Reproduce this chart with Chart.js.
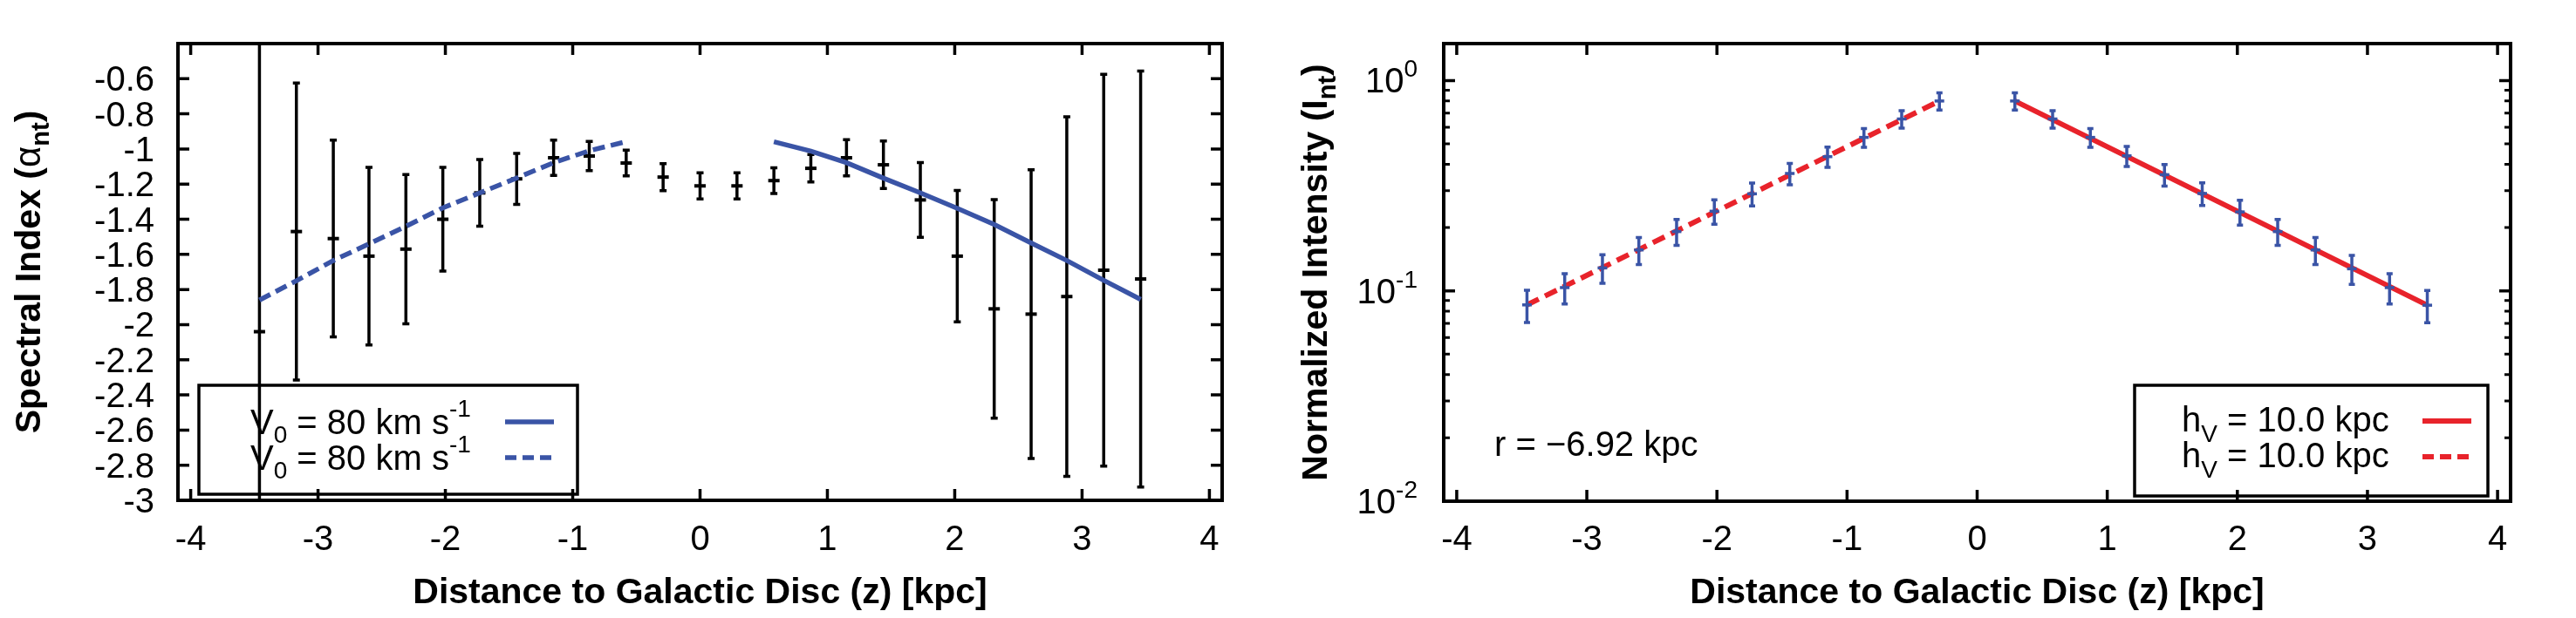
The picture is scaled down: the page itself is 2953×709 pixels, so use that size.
<!DOCTYPE html>
<html>
<head>
<meta charset="utf-8">
<script src="https://cdn.jsdelivr.net/npm/chart.js@4.4.1/dist/chart.umd.min.js"></script>
<style>
	html, body { margin: 0; padding: 0; background: #fff; }
	body { width: 2953px; height: 709px; position: relative; overflow: hidden; }
	canvas { position: absolute; top: 0; }
	#alphaChart { left: 0; }
	#intensityChart { left: 1476px; }
</style>
</head>
<body>
<canvas id="alphaChart" width="1476" height="709"></canvas>
<canvas id="intensityChart" width="1477" height="709"></canvas>
<script>
// values
const zAlpha = [-3.46, -3.17, -2.88, -2.6, -2.31, -2.02, -1.73, -1.44, -1.15, -0.87, -0.58, -0.29, 0, 0.29, 0.58, 0.87, 1.15, 1.44, 1.73, 2.02, 2.31, 2.6, 2.88, 3.17, 3.46];
const alphaValues = [-2.04, -1.47, -1.51, -1.61, -1.57, -1.40, -1.25, -1.17, -1.05, -1.04, -1.08, -1.16, -1.21, -1.21, -1.18, -1.11, -1.05, -1.09, -1.29, -1.61, -1.91, -1.94, -1.84, -1.69, -1.74];
const alphaErrors = [1.9, 0.845, 0.56, 0.505, 0.425, 0.295, 0.19, 0.145, 0.10, 0.083, 0.073, 0.077, 0.074, 0.074, 0.073, 0.078, 0.103, 0.135, 0.213, 0.374, 0.622, 0.822, 1.023, 1.115, 1.184];

const fitNorthZ = [0.58, 0.87, 1.15, 1.44, 1.73, 2.02, 2.31, 2.6, 2.88, 3.17, 3.46];
const fitNorthAlpha = [-0.959, -1.012, -1.078, -1.166, -1.25, -1.338, -1.43, -1.535, -1.635, -1.748, -1.856];
const fitSouthZ = [-3.46, -3.17, -2.88, -2.6, -2.31, -2.02, -1.73, -1.44, -1.15, -0.87, -0.58];
const fitSouthAlpha = [-1.86, -1.75, -1.635, -1.54, -1.44, -1.335, -1.25, -1.165, -1.078, -1.01, -0.958];

const zIntensity = [-3.46, -3.17, -2.88, -2.6, -2.31, -2.02, -1.73, -1.44, -1.15, -0.87, -0.58, -0.29, 0.29, 0.58, 0.87, 1.15, 1.44, 1.73, 2.02, 2.31, 2.6, 2.88, 3.17, 3.46];
const intensityValues = [0.0858, 0.1037, 0.1286, 0.1566, 0.1915, 0.2393, 0.2896, 0.3618, 0.435, 0.537, 0.657, 0.80, 0.80, 0.657, 0.537, 0.4388, 0.357, 0.2906, 0.2375, 0.1915, 0.1566, 0.1274, 0.1037, 0.0855];
const intensityErrors = [0.015, 0.017, 0.02, 0.023, 0.027, 0.032, 0.036, 0.042, 0.048, 0.055, 0.063, 0.075, 0.075, 0.063, 0.055, 0.048, 0.042, 0.036, 0.032, 0.027, 0.023, 0.02, 0.017, 0.015];

const expNorthZ = [0.29, 3.46];
const expNorthI = [0.80, 0.0855];
const expSouthZ = [-3.46, -0.29];
const expSouthI = [0.0858, 0.80];

const zTicks = [-4, -3, -2, -1, 0, 1, 2, 3, 4];
const alphaTicks = [-3, -2.8, -2.6, -2.4, -2.2, -2, -1.8, -1.6, -1.4, -1.2, -1, -0.8, -0.6];
const intensityDecades = [-2, -1, 0];
const minorSteps = [2, 3, 4, 5, 6, 7, 8, 9];

const FONT = `"Liberation Sans", Arial, Helvetica, sans-serif`;
const BLUE = `#3a54a6`;
const RED = `#e8232b`;
const toPoints = (xs, ys) => xs.map((x, i) => ({x, y: ys[i]}));

// draws a run of text pieces (for sub/superscripts), left aligned
function drawRich(ctx, x, y, parts) {
	parts.forEach(p => {
		ctx.font = p.font;
		ctx.fillText(p.text, x, y + (p.dy || 0));
		x += ctx.measureText(p.text).width;
	});
}

function richWidth(ctx, parts) {
	return parts.reduce((w, p) => { ctx.font = p.font; return w + ctx.measureText(p.text).width; }, 0);
}

function drawErrorBars(chart, index, errors, color, cap) {
	const {ctx, chartArea: a, scales: {x, y}} = chart;
	const points = chart.data.datasets[index].data;
	ctx.save();
	ctx.beginPath();
	ctx.rect(a.left, a.top, a.width, a.height);
	ctx.clip();
	ctx.strokeStyle = color;
	ctx.lineWidth = 3.5;
	ctx.beginPath();
	points.forEach((p, i) => {
		const px = x.getPixelForValue(p.x);
		const top = y.getPixelForValue(p.y + errors[i]);
		const bottom = y.getPixelForValue(p.y - errors[i]);
		ctx.moveTo(px, top); ctx.lineTo(px, bottom);
		ctx.moveTo(px - cap, top); ctx.lineTo(px + cap, top);
		ctx.moveTo(px - cap, bottom); ctx.lineTo(px + cap, bottom);
	});
	ctx.stroke();
	ctx.restore();
}

function drawFrame(chart, majorY, minorY) {
	const {ctx, chartArea: a, scales: {x, y}} = chart;
	ctx.save();
	ctx.strokeStyle = `#000`;
	ctx.lineWidth = 3.5;
	ctx.beginPath();
	zTicks.forEach(v => {
		const px = x.getPixelForValue(v);
		ctx.moveTo(px, a.bottom); ctx.lineTo(px, a.bottom - 13);
		ctx.moveTo(px, a.top); ctx.lineTo(px, a.top + 13);
	});
	majorY.forEach(v => {
		const py = y.getPixelForValue(v);
		ctx.moveTo(a.left, py); ctx.lineTo(a.left + 13, py);
		ctx.moveTo(a.right, py); ctx.lineTo(a.right - 13, py);
	});
	ctx.stroke();
	ctx.lineWidth = 3;
	ctx.beginPath();
	minorY.forEach(v => {
		const py = y.getPixelForValue(v);
		ctx.moveTo(a.left, py); ctx.lineTo(a.left + 7, py);
		ctx.moveTo(a.right, py); ctx.lineTo(a.right - 7, py);
	});
	ctx.stroke();
	ctx.lineWidth = 4;
	ctx.strokeRect(a.left, a.top, a.width, a.height);
	ctx.restore();
}

function drawAxisText(chart, yTitleX, yTitleParts) {
	const {ctx, chartArea: a, scales: {x}} = chart;
	ctx.save();
	ctx.fillStyle = `#000`;
	ctx.textBaseline = `alphabetic`;
	ctx.font = `40px ${FONT}`;
	ctx.textAlign = `center`;
	zTicks.forEach(v => ctx.fillText(String(v), x.getPixelForValue(v), 631));
	ctx.font = `bold 41px ${FONT}`;
	ctx.fillText(`Distance to Galactic Disc (z) [kpc]`, (a.left + a.right) / 2, 692);
	ctx.textAlign = `left`;
	ctx.translate(yTitleX, (a.top + a.bottom) / 2);
	ctx.rotate(-Math.PI / 2);
	drawRich(ctx, -richWidth(ctx, yTitleParts) / 2, 0, yTitleParts);
	ctx.restore();
}

function drawLegend(chart, box, rows) {
	const {ctx} = chart;
	ctx.save();
	ctx.strokeStyle = `#000`;
	ctx.lineWidth = 3.5;
	ctx.strokeRect(box.left, box.top, box.right - box.left, box.bottom - box.top);
	ctx.fillStyle = `#000`;
	ctx.textAlign = `left`;
	ctx.textBaseline = `alphabetic`;
	rows.forEach(row => {
		drawRich(ctx, box.textX, row.baseline, row.parts);
		ctx.strokeStyle = row.color;
		ctx.lineWidth = row.width;
		ctx.setLineDash(row.dash);
		ctx.beginPath();
		ctx.moveTo(box.sampleFrom, row.sampleY);
		ctx.lineTo(box.sampleTo, row.sampleY);
		ctx.stroke();
		ctx.setLineDash([]);
	});
	ctx.restore();
}

const reg = size => `${size}px ${FONT}`;
const bold = size => `bold ${size}px ${FONT}`;

const baseOptions = (yScale, padding) => ({
	responsive: false,
	animation: false,
	events: [],
	layout: {padding},
	plugins: {legend: {display: false}, tooltip: {enabled: false}},
	scales: {
		x: {type: `linear`, min: -4.1, max: 4.1, display: false},
		y: yScale
	}
});

// left panel: spectral index
const v0Parts = [
	{text: `V`, font: reg(40)},
	{text: `0`, font: reg(28), dy: 10},
	{text: ` = 80 km s`, font: reg(40)},
	{text: `-1`, font: reg(28), dy: -20}
];

new Chart(document.getElementById(`alphaChart`), {
	type: `scatter`,
	data: {
		datasets: [
			{data: toPoints(fitNorthZ, fitNorthAlpha), showLine: true, borderColor: BLUE, borderWidth: 5.5, pointRadius: 0},
			{data: toPoints(fitSouthZ, fitSouthAlpha), showLine: true, borderColor: BLUE, borderWidth: 5.5, borderDash: [14, 7], pointRadius: 0},
			{data: toPoints(zAlpha, alphaValues), pointStyle: `line`, pointRadius: 6.5, pointBorderWidth: 4, borderColor: `#000`, backgroundColor: `#000`}
		]
	},
	options: baseOptions({type: `linear`, min: -3, max: -0.4, display: false}, {left: 204, right: 75, top: 50, bottom: 135}),
	plugins: [{
		id: `alphaPanel`,
		beforeDatasetsDraw(chart) {
			drawLegend(chart, {left: 228, right: 662, top: 442, bottom: 567, textX: 287, sampleFrom: 579, sampleTo: 635}, [
				{parts: v0Parts, baseline: 498, sampleY: 484, color: BLUE, width: 5.5, dash: []},
				{parts: v0Parts, baseline: 539, sampleY: 525, color: BLUE, width: 5.5, dash: [13, 7]}
			]);
		},
		beforeDatasetDraw(chart, args) {
			if (args.index === 2) { drawErrorBars(chart, 2, alphaErrors, `#000`, 4); }
		},
		afterDatasetsDraw(chart) {
			drawFrame(chart, alphaTicks, []);
		},
		afterDraw(chart) {
			const {ctx, chartArea: a, scales: {y}} = chart;
			ctx.save();
			ctx.fillStyle = `#000`;
			ctx.font = reg(40);
			ctx.textAlign = `right`;
			alphaTicks.forEach(v => ctx.fillText(String(+v.toFixed(1)), a.left - 27, y.getPixelForValue(v) + 14));
			ctx.restore();
			drawAxisText(chart, 46, [
				{text: `Spectral Index (`, font: bold(41)},
				{text: `\u03b1`, font: reg(42)},
				{text: `nt`, font: bold(29), dy: 10},
				{text: `)`, font: bold(41)}
			]);
		}
	}]
});

// right panel: normalized intensity
const hvParts = [
	{text: `h`, font: reg(40)},
	{text: `V`, font: reg(28), dy: 12},
	{text: ` = 10.0 kpc`, font: reg(40)}
];
const majorI = intensityDecades.map(d => 10 ** d);
const minorI = intensityDecades.flatMap(d => minorSteps.map(s => s * 10 ** d)).filter(v => v < 1.5);

new Chart(document.getElementById(`intensityChart`), {
	type: `scatter`,
	data: {
		datasets: [
			{data: toPoints(zIntensity, intensityValues), pointStyle: `line`, pointRadius: 5.5, pointBorderWidth: 3.5, borderColor: BLUE, backgroundColor: BLUE},
			{data: toPoints(expNorthZ, expNorthI), showLine: true, borderColor: RED, borderWidth: 6, pointRadius: 0},
			{data: toPoints(expSouthZ, expSouthI), showLine: true, borderColor: RED, borderWidth: 6, borderDash: [15, 8], pointRadius: 0}
		]
	},
	options: baseOptions({type: `logarithmic`, min: 0.01, max: 1.5, display: false}, {left: 179, right: 75, top: 50, bottom: 134}),
	plugins: [{
		id: `intensityPanel`,
		beforeDatasetsDraw(chart) {
			drawLegend(chart, {left: 971, right: 1376, top: 442, bottom: 569, textX: 1025, sampleFrom: 1301, sampleTo: 1357}, [
				{parts: hvParts, baseline: 495, sampleY: 483, color: RED, width: 6, dash: []},
				{parts: hvParts, baseline: 536, sampleY: 524, color: RED, width: 6, dash: [13, 7]}
			]);
		},
		beforeDatasetDraw(chart, args) {
			if (args.index === 0) { drawErrorBars(chart, 0, intensityErrors, BLUE, 3.5); }
		},
		afterDatasetsDraw(chart) {
			drawFrame(chart, majorI, minorI);
		},
		afterDraw(chart) {
			const {ctx, chartArea: a, scales: {y}} = chart;
			ctx.save();
			ctx.fillStyle = `#000`;
			ctx.textAlign = `left`;
			intensityDecades.forEach(d => {
				const parts = [{text: `10`, font: reg(40)}, {text: String(d), font: reg(28), dy: -18}];
				const w = richWidth(ctx, parts);
				drawRich(ctx, a.left - 30 - w, y.getPixelForValue(10 ** d) + 14, parts);
			});
			ctx.font = reg(40);
			ctx.fillText(`r = \u22126.92 kpc`, 237, 523);
			ctx.restore();
			drawAxisText(chart, 45, [
				{text: `Normalized Intensity (I`, font: bold(41)},
				{text: `nt`, font: bold(29), dy: 10},
				{text: `)`, font: bold(41)}
			]);
		}
	}]
});
</script>
</body>
</html>
